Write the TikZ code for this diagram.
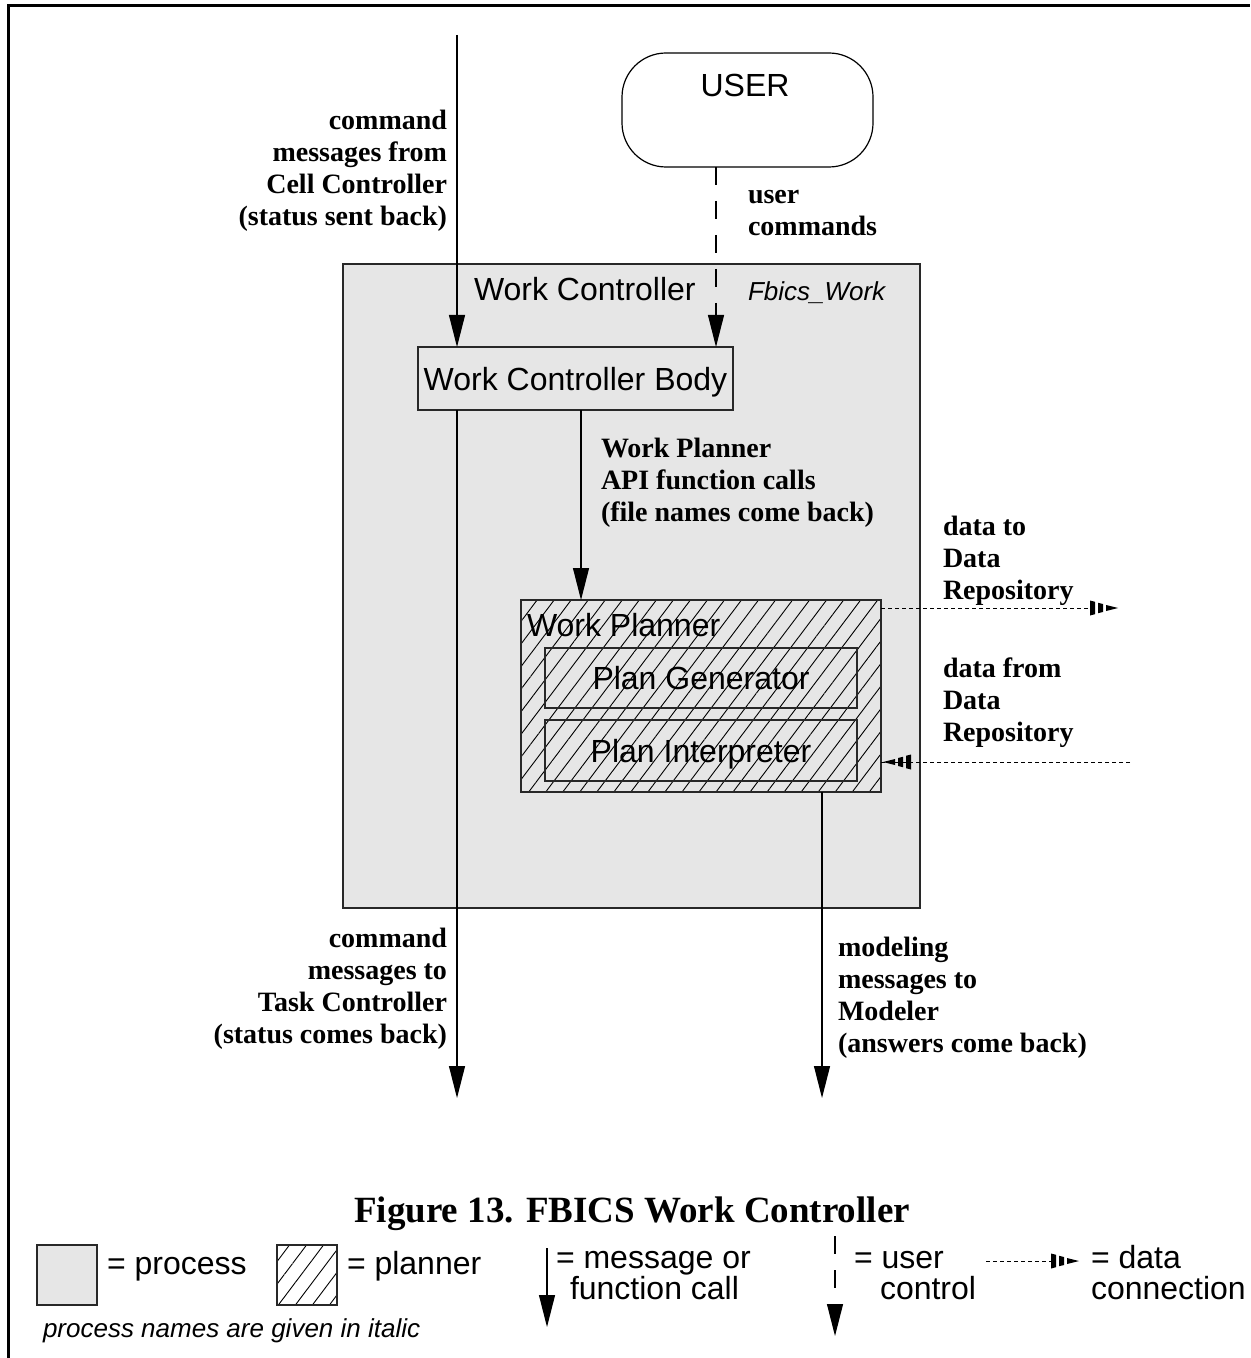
\documentclass[tikz,border=0pt]{standalone}
\usepackage{fontspec}
\setmainfont{Liberation Serif}
\setsansfont{Liberation Sans}
\usetikzlibrary{arrows.meta,patterns.meta}

\definecolor{procgray}{RGB}{230,230,230}
\definecolor{edgegray}{RGB}{40,40,40}

\begin{document}
\begin{tikzpicture}[x=0.5pt,y=-0.5pt,
  every node/.style={inner sep=0pt, outer sep=0pt},
  lbl/.style={font=\fontsize{14pt}{16pt}\selectfont\rmfamily\bfseries},
  sans/.style={font=\fontsize{16pt}{19pt}\selectfont\sffamily},
  legtxt/.style={font=\fontsize{16pt}{18pt}\selectfont\sffamily},
  itxt/.style={font=\fontsize{13pt}{15pt}\selectfont\sffamily\itshape},
  procbox/.style={draw=edgegray, line width=0.6pt, fill=procgray},
  plainbox/.style={draw=edgegray, line width=0.6pt},
  hatch/.style={pattern={Lines[angle=53,distance=6.8pt,line width=0.45pt]}},
  msg/.style={draw, line width=0.55pt, -{Triangle[length=16pt,width=8pt]}},
  udash/.style={msg, dash pattern=on 9pt off 8pt},
  ddot/.style={draw, line width=0.45pt, dash pattern=on 2pt off 1.5pt},
  datahead/.pic={
    \fill (0,-7.5) -- (5,-6.2) -- (5,6.2) -- (0,7.5) -- cycle;
    \fill (8,-5.2) -- (13,-4) -- (13,4) -- (8,5.2) -- cycle;
    \fill (16,-3) -- (28,0) -- (16,3) -- cycle;
  }
]
\useasboundingbox (0,0) rectangle (1250,1358);

% page frame (top and left edges)
\draw[line width=1.5pt] (8,1358) -- (8,6) -- (1250,6);

% user
\node[draw, line width=0.6pt, rounded corners=22pt, minimum width=125.5pt,
      minimum height=57pt] (user) at (747.5,110) {};
\node[sans, anchor=base] (usertxt) at (745,97) {USER};

% work controller process
\node[procbox, minimum width=288.5pt, minimum height=322pt] (wc) at (631.5,586) {};
\node[sans, anchor=base west] (wctxt) at (474,301) {Work Controller};
\node[itxt, anchor=base west] (wcname) at (748,300) {Fbics\_Work};

\node[plainbox, minimum width=157.5pt, minimum height=31.5pt,
      text height=11.5pt, text depth=0pt, sans] (wcb) at (575.5,378.5) {Work Controller Body};

% work planner
\node[plainbox, hatch, preaction={fill=procgray}, minimum width=180pt,
      minimum height=96pt] (wp) at (701,696) {};
\node[sans, anchor=base west] (wptxt) at (527,636) {Work Planner};
\node[plainbox, minimum width=156pt, minimum height=30pt,
      text height=11.5pt, text depth=0pt, sans] (pg) at (701,678) {Plan Generator};
\node[plainbox, minimum width=156pt, minimum height=30.5pt,
      text height=11.5pt, text depth=0pt, sans] (pi) at (701,750.5) {Plan Interpreter};

% message connectors
\coordinate (ccin) at (457,35);
\draw[msg] (ccin) -- (ccin |- wcb.north);
\coordinate (ucmd) at ([xshift=-15.75pt]user.south);
\draw[udash] (ucmd) -- (ucmd |- wcb.north);
\coordinate (tcout) at (457,1098);
\draw[msg] (wcb.south -| tcout) -- (tcout);
\coordinate (wpin) at ([xshift=-60pt]wp.north);
\draw[msg] (wcb.south -| wpin) -- (wpin);
\coordinate (mdout) at (822,1098);
\draw[msg] (wp.south -| mdout) -- (mdout);

% data connections
\coordinate (drout) at (1090,608);
\draw[ddot] (wp.east |- drout) -- (drout);
\pic at (drout) {datahead};
\coordinate (drin) at (1130,762);
\draw[ddot] (drin) -- (wp.east |- drin);
\pic[xscale=-1] at (911,762) {datahead};

% connector labels (anchored on the baseline of the last line)
\node[lbl, align=right, anchor=base east] (lcc) at (447,226)
  {command\\messages from\\Cell Controller\\(status sent back)};
\node[lbl, align=left, anchor=base west] (luc) at (748,236)
  {user\\commands};
\node[lbl, align=left, anchor=base west] (lwp) at (601,521)
  {Work Planner\\API function calls\\(file names come back)};
\node[lbl, align=left, anchor=base west] (ldto) at (943,599)
  {data to\\Data\\Repository};
\node[lbl, align=left, anchor=base west] (ldfr) at (943,741)
  {data from\\Data\\Repository};
\node[lbl, align=right, anchor=base east] (ltc) at (447,1043)
  {command\\messages to\\Task Controller\\(status comes back)};
\node[lbl, align=left, anchor=base west] (lmd) at (838,1052)
  {modeling\\messages to\\Modeler\\(answers come back)};

% caption
\node[font=\fontsize{18.5pt}{22pt}\selectfont\rmfamily\bfseries, anchor=base] (title)
  at (632,1222) {Figure 13. FBICS Work Controller};

% legend
\node[procbox, minimum width=30pt, minimum height=30pt] (lgproc) at (67,1275) {};
\node[legtxt, anchor=base west] (lgproctxt) at (107,1274) {= process};
\node[plainbox, hatch, minimum width=30pt, minimum height=30pt] (lgplan) at (307,1275) {};
\node[legtxt, anchor=base west] (lgplantxt) at (347,1274) {= planner};

\coordinate (lgm1) at (547,1248);
\coordinate (lgm2) at (547,1327);
\draw[msg] (lgm1) -- (lgm2);
\node[legtxt, anchor=base west] (lgmsg1) at (556,1268) {= message or};
\node[legtxt, anchor=base west] (lgmsg2) at (570,1299) {function call};

\coordinate (lgu1) at (835,1236);
\coordinate (lgu2) at (835,1336);
\draw[udash] (lgu1) -- (lgu2);
\node[legtxt, anchor=base west] (lguser1) at (854,1268) {= user};
\node[legtxt, anchor=base west] (lguser2) at (880,1299) {control};

\coordinate (lgd1) at (986,1261);
\coordinate (lgd2) at (1051,1261);
\draw[ddot] (lgd1) -- (lgd2);
\pic at (lgd2) {datahead};
\node[legtxt, anchor=base west] (lgdata1) at (1091,1268) {= data};
\node[legtxt, anchor=base west] (lgdata2) at (1091,1299) {connection};

\node[itxt, anchor=base west] (lgnote) at (43,1337) {process names are given in italic};
\end{tikzpicture}
\end{document}
